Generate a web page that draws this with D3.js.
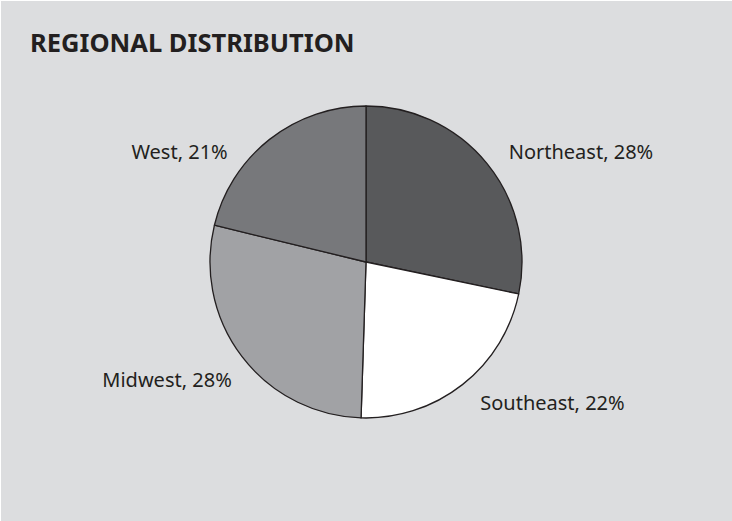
<html>
<head>
  <meta charset="utf-8">
  <script src="https://d3js.org/d3.v7.min.js"></script>
  <style>
    body { margin: 0; background: #fff; }
    text { font-family: "Noto Sans", sans-serif; fill: #231f20; }
  </style>
</head>
<body>
<svg id="chart" width="732" height="521"></svg>
<script>
var regions = ["Northeast", "Southeast", "Midwest", "West"];
var shares  = [28, 22, 28, 21];
var fills   = ["#58595b", "#ffffff", "#a1a2a5", "#77787b"];
// hand nudges for label placement, px
var nudgeX = [3, 3, 9, -27];
var nudgeY = [3, 0, 9, 31];

var svg = d3.select("#chart");
svg.append("rect").attr("x", 1).attr("y", 1).attr("width", 731).attr("height", 520)
    .attr("fill", "#dcdddf");

svg.append("text").attr("x", 30).attr("y", 52)
    .attr("font-size", 25.5).attr("font-weight", "bold")
    .text("REGIONAL DISTRIBUTION");

var cx = 366, cy = 262, r = 156;
var pie = d3.pie().sort(null).value(function(d) { return d; });
var arcs = pie(shares);
var arc = d3.arc().innerRadius(0).outerRadius(r);
var labelArc = d3.arc().innerRadius(180).outerRadius(180);

var g = svg.append("g").attr("transform", "translate(" + cx + "," + cy + ")");
g.selectAll("path").data(arcs).enter().append("path")
    .attr("d", arc)
    .attr("fill", function(d, i) { return fills[i]; })
    .attr("stroke", "#231f20").attr("stroke-width", 1.3)
    .attr("stroke-linejoin", "round");

g.selectAll("text.lbl").data(arcs).enter().append("text")
    .attr("class", "lbl")
    .attr("font-size", 20)
    .attr("x", function(d, i) { return labelArc.centroid(d)[0] + nudgeX[i]; })
    .attr("y", function(d, i) { return labelArc.centroid(d)[1] + nudgeY[i]; })
    .attr("dy", "0.35em")
    .attr("text-anchor", function(d) { return (d.startAngle + d.endAngle) / 2 < Math.PI ? "start" : "end"; })
    .text(function(d, i) { return regions[i] + ", " + shares[i] + "%"; });
</script>
</body>
</html>
